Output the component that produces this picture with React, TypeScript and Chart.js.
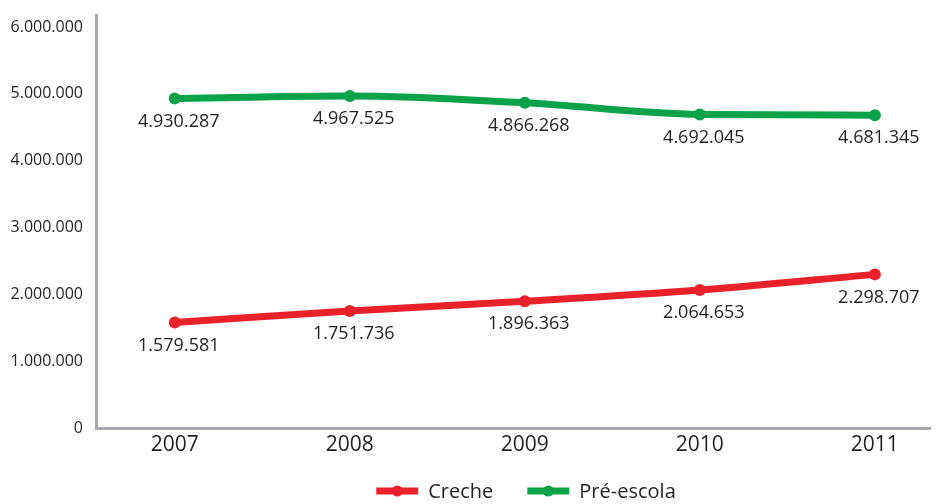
import React, { useEffect, useRef } from "react";
import { Chart, registerables } from "chart.js";

Chart.register(...registerables);

const years = [2007, 2008, 2009, 2010, 2011];
const creche = [1579581, 1751736, 1896363, 2064653, 2298707];
const preEscola = [4930287, 4967525, 4866268, 4692045, 4681345];
const yTicks = [0, 1000000, 2000000, 3000000, 4000000, 5000000, 6000000];
const seriesNames = ["Creche", "Pré-escola"];
const seriesColors = ["#e8212b", "#0ba24a"];

const X_MIN = 2006.55;
const X_MAX = 2011.315;
const Y_MAX = 6180000;

const FONT = "'Open Sans', 'Noto Sans', sans-serif";
const TEXT = "#231f20";
const fmt = (v: number) => v.toString().replace(/\B(?=(\d{3})+(?!\d))/g, ".");

const labelsPlugin = {
  id: "valueLabels",
  afterDatasetsDraw(chart: any) {
    const ctx = chart.ctx;
    ctx.save();
    ctx.font = `18px ${FONT}`;
    ctx.fillStyle = TEXT;
    ctx.textAlign = "center";
    ctx.textBaseline = "middle";
    chart.data.datasets.forEach((ds: any, i: number) => {
      const meta = chart.getDatasetMeta(i);
      meta.data.forEach((pt: any, j: number) => {
        ctx.fillText(fmt(ds.data[j].y), pt.x + 4, pt.y + 23);
      });
    });
    ctx.restore();
  },
};

const legendPlugin = {
  id: "customLegend",
  afterDraw(chart: any) {
    const ctx = chart.ctx;
    ctx.save();
    ctx.font = `20px ${FONT}`;
    ctx.textBaseline = "middle";
    const y = 491;
    const lineW = 42;
    const gapText = 10;
    const gapItems = 34;
    const items = chart.data.datasets.map((d: any) => ({
      label: d.label,
      color: d.borderColor,
      w: lineW + gapText + ctx.measureText(d.label).width,
    }));
    const total = items.reduce((s: number, it: any) => s + it.w, 0) + gapItems * (items.length - 1);
    const area = chart.chartArea;
    let x = (area.left + area.right) / 2 + 13 - total / 2;
    items.forEach((it: any) => {
      ctx.strokeStyle = it.color;
      ctx.lineWidth = 7;
      ctx.beginPath();
      ctx.moveTo(x, y);
      ctx.lineTo(x + lineW, y);
      ctx.stroke();
      ctx.fillStyle = it.color;
      ctx.beginPath();
      ctx.arc(x + lineW / 2, y, 5.5, 0, Math.PI * 2);
      ctx.fill();
      ctx.fillStyle = TEXT;
      ctx.fillText(it.label, x + lineW + gapText, y + 1);
      x += it.w + gapItems;
    });
    ctx.restore();
  },
};

export default function App() {
  const ref = useRef<HTMLCanvasElement>(null);
  useEffect(() => {
    document.body.style.margin = "0";
    const series = [creche, preEscola];
    const chart = new Chart(ref.current!, {
      type: "line",
      data: {
        datasets: series.map((s, i) => ({
          label: seriesNames[i],
          data: s.map((v, j) => ({ x: years[j], y: v })),
          borderColor: seriesColors[i],
          backgroundColor: seriesColors[i],
          borderWidth: 7,
          pointRadius: 6,
          pointBorderWidth: 0,
          pointHoverRadius: 6,
          tension: 0.25,
          cubicInterpolationMode: "monotone",
        })),
      },
      options: {
        animation: false,
        responsive: false,
        maintainAspectRatio: false,
        layout: { padding: { top: 15, right: 1, bottom: 40, left: 0 } },
        plugins: { legend: { display: false }, tooltip: { enabled: false } },
        scales: {
          x: {
            type: "linear",
            min: X_MIN,
            max: X_MAX,
            grid: { display: false, drawTicks: false },
            border: { color: "#a7a9ac", width: 3 },
            afterBuildTicks: (axis: any) => {
              axis.ticks = [X_MIN, ...years, X_MAX].map((y) => ({ value: y }));
            },
            afterFit: (scale: any) => {
              scale.height = 36;
              scale.paddingLeft = 0;
              scale.paddingRight = 0;
            },
            ticks: {
              callback: (v: any) => (years.includes(Number(v)) ? String(v) : null),
              font: { family: FONT, size: 21 },
              color: TEXT,
              padding: 4,
              maxRotation: 0,
              autoSkip: false,
            },
          },
          y: {
            min: 0,
            max: Y_MAX,
            grid: { display: false, drawTicks: false },
            border: { color: "#a7a9ac", width: 3 },
            afterBuildTicks: (axis: any) => {
              axis.ticks = [...yTicks, Y_MAX].map((v) => ({ value: v }));
            },
            afterFit: (scale: any) => {
              scale.width = 96;
              scale.paddingTop = 0;
              scale.paddingBottom = 0;
            },
            ticks: {
              callback: (v: any) => (yTicks.includes(Number(v)) ? fmt(Number(v)) : null),
              font: { family: FONT, size: 16 },
              color: TEXT,
              padding: 13,
              autoSkip: false,
            },
          },
        },
      },
      plugins: [labelsPlugin, legendPlugin],
    });
    return () => chart.destroy();
  }, []);
  return <canvas ref={ref} width={936} height={504} style={{ display: "block" }} />;
}
